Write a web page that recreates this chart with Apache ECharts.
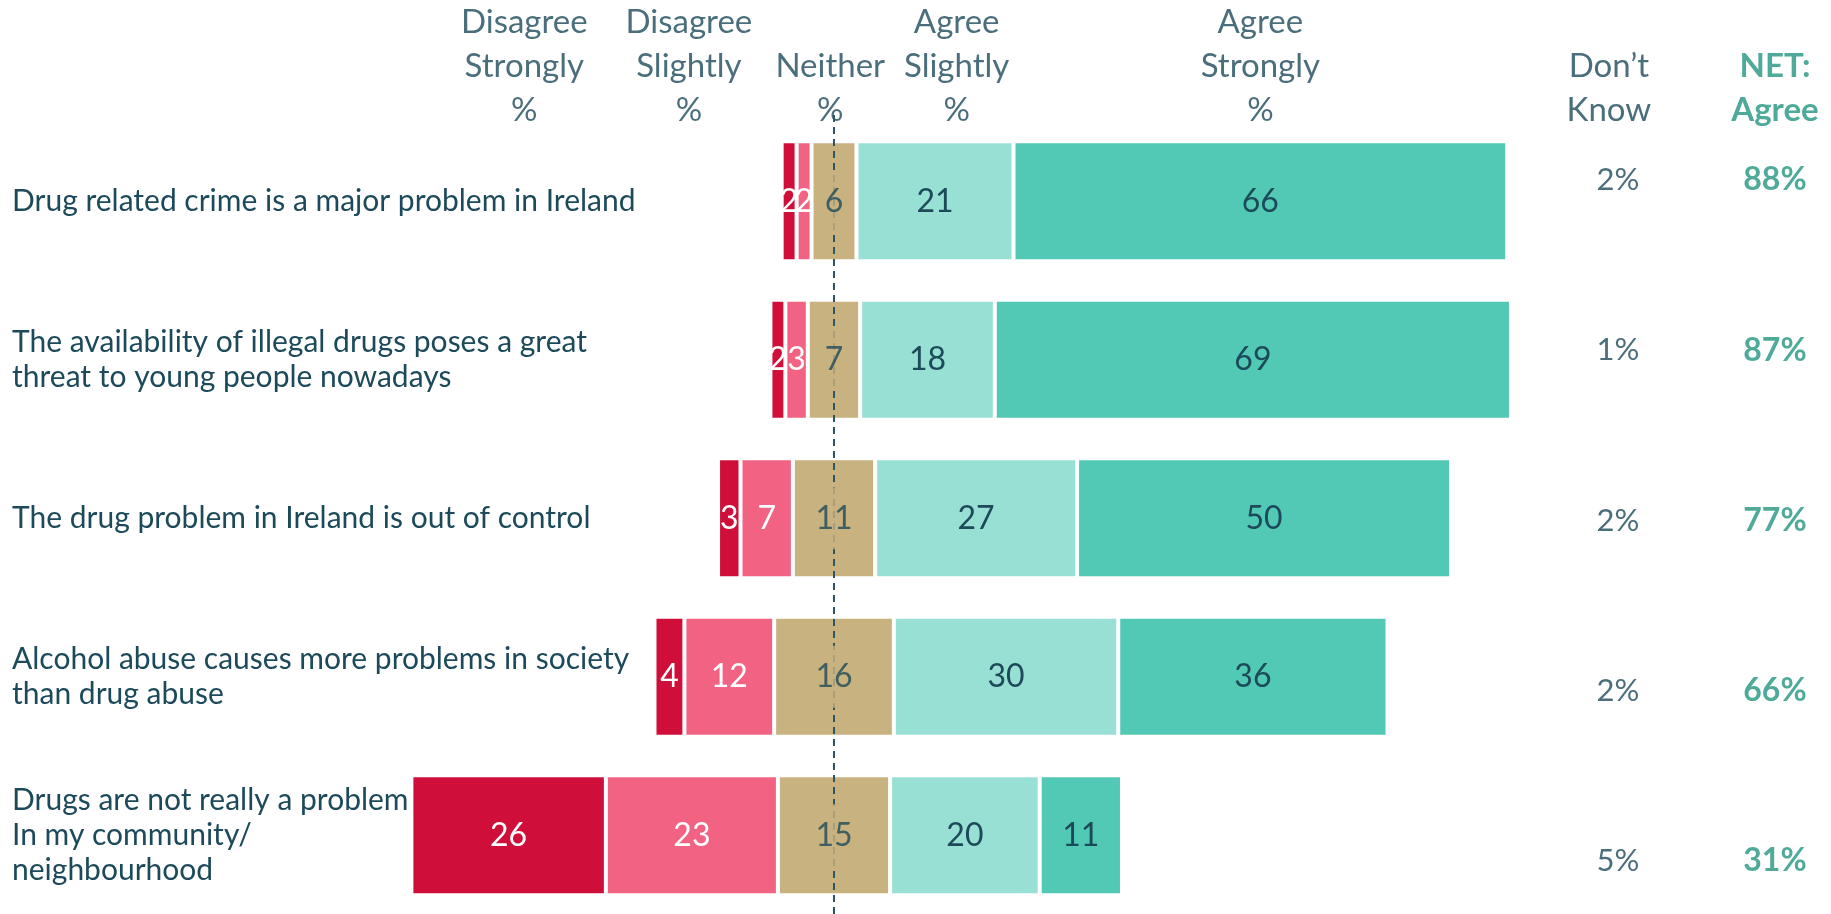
<!DOCTYPE html>
<html>
<head>
<meta charset="utf-8">
<script src="https://cdn.jsdelivr.net/npm/echarts@6/dist/echarts.min.js"></script>
<style>
    html, body { margin: 0; padding: 0; background: #ffffff; }
    #chartContainer { width: 1831px; height: 914px; }
</style>
</head>
<body>
<div id="chartContainer"></div>
<script>
// 設問
const statements = [
    'Drug related crime is a major problem in Ireland',
    'The availability of illegal drugs poses a great\nthreat to young people nowadays',
    'The drug problem in Ireland is out of control',
    'Alcohol abuse causes more problems in society\nthan drug abuse',
    'Drugs are not really a problem\nIn my community/\nneighbourhood'
];

// 回答 (%)
const disagreeStrongly = [2, 2, 3, 4, 26];
const disagreeSlightly = [2, 3, 7, 12, 23];
const neither = [6, 7, 11, 16, 15];
const agreeSlightly = [21, 18, 27, 30, 20];
const agreeStrongly = [66, 69, 50, 36, 11];
const dontKnow = [2, 1, 2, 2, 5];
const netAgree = [88, 87, 77, 66, 31];

// 列見出し
const headers = [
    'Disagree\nStrongly\n%',
    'Disagree\nSlightly\n%',
    'Neither\n%',
    'Agree\nSlightly\n%',
    'Agree\nStrongly\n%',
    'Don\u2019t\nKnow',
    'NET:\nAgree'
];

// レイアウト
const WIDTH = 1831;
const ZERO_X = 834;        // 点線 (Neither の中心) の位置
const PX_PER_UNIT = 7.48;  // 1% あたりのピクセル
const LEFT = 12;
const X_MIN = -(ZERO_X - LEFT) / PX_PER_UNIT;
const X_MAX = (WIDTH - ZERO_X) / PX_PER_UNIT;
const HEADER_X = [-41.4, -19.4, -0.5, 16.4, 57, 103.6, 125.8];
const DK_X = 104.8;
const NET_X = 125.8;
const LABEL_LIFT = [16, 16, 0, 0, 0];  // 行ラベルの上方向の補正

const FONT = 'Lato, "Open Sans", sans-serif';
const TEXT_COLOR = '#1D4A5A';
const NET_COLOR = '#23957F';
const NEITHER_COLOR = '#C8B27F';

const segments = [
    { name: 'Disagree Strongly', data: disagreeStrongly, color: '#CF0F3A', label: '#ffffff' },
    { name: 'Disagree Slightly', data: disagreeSlightly, color: '#F26282', label: '#ffffff' },
    { name: 'Neither', data: neither, color: NEITHER_COLOR, label: null },
    { name: 'Agree Slightly', data: agreeSlightly, color: '#98E0D4', label: TEXT_COLOR },
    { name: 'Agree Strongly', data: agreeStrongly, color: '#52C9B5', label: TEXT_COLOR }
];

// 左端の開始位置 (Neither の中心を 0 にする)
const offsets = neither.map((n, i) => -(disagreeStrongly[i] + disagreeSlightly[i] + n / 2));

function valueAxis(gridIndex) {
    return {
        type: 'value', gridIndex: gridIndex, min: X_MIN, max: X_MAX,
        axisLine: { show: false }, axisTick: { show: false },
        axisLabel: { show: false }, splitLine: { show: false }
    };
}

function makeGrid(top, height) {
    return { left: LEFT, right: 0, top: top, height: height, outerBoundsMode: 'none', containLabel: false };
}

// 透明な点にラベルだけ付ける
function textSeries(axisIndex, data, label, z) {
    return {
        type: 'scatter', xAxisIndex: axisIndex, yAxisIndex: axisIndex, silent: true,
        symbolSize: 1, itemStyle: { color: 'transparent' }, z: z || 2,
        emphasis: { disabled: true },
        data: data,
        label: Object.assign({ show: true, fontFamily: FONT }, label)
    };
}

const barSeries = [{
    type: 'bar', name: 'offset', stack: 'total', stackStrategy: 'all',
    silent: true, barWidth: 120,
    data: offsets, itemStyle: { color: 'transparent' }
}];
segments.forEach(seg => {
    barSeries.push({
        type: 'bar', name: seg.name, stack: 'total', stackStrategy: 'all',
        barWidth: 120,
        data: seg.data,
        itemStyle: { color: seg.color, borderColor: '#ffffff', borderWidth: 2 },
        label: {
            show: seg.label !== null, position: 'inside',
            color: seg.label, fontFamily: FONT, fontSize: 32
        }
    });
});

const chart = echarts.init(document.getElementById('chartContainer'));

const option = {
    animation: false,
    grid: [
        makeGrid(122, 792.5),  // 0: 棒グラフ
        makeGrid(95, 851),     // 1: Don't Know / NET
        makeGrid(0, 133),      // 2: 見出し
        makeGrid(113, 801)     // 3: 点線
    ],
    xAxis: [valueAxis(0), valueAxis(1), valueAxis(2), valueAxis(3)],
    yAxis: [
        {
            type: 'category', gridIndex: 0, inverse: true,
            data: statements.map((s, i) => ({
                value: s,
                textStyle: { align: 'left', padding: [0, 0, LABEL_LIFT[i], 0] }
            })),
            axisLine: { show: false }, axisTick: { show: false }, splitLine: { show: false },
            axisLabel: {
                interval: 0, align: 'left', margin: 0,
                color: TEXT_COLOR, fontFamily: FONT, fontSize: 30, lineHeight: 35
            }
        },
        {
            type: 'category', gridIndex: 1, inverse: true, data: statements, show: false
        },
        { type: 'value', gridIndex: 2, min: 0, max: 1, show: false },
        { type: 'value', gridIndex: 3, min: 0, max: 1, show: false }
    ],
    series: [
        ...barSeries,
        // Neither のラベル (点線の上に重ねる)
        textSeries(0, neither.map((n, i) => [0, i]), {
            position: 'inside',
            formatter: p => neither[p.dataIndex],
            color: TEXT_COLOR, fontSize: 32, lineHeight: 38,
            backgroundColor: NEITHER_COLOR, padding: [12, 4]
        }, 10),
        // Don't Know
        textSeries(1, dontKnow.map((v, i) => [DK_X, i]), {
            position: 'inside',
            formatter: p => dontKnow[p.dataIndex] + '%',
            color: TEXT_COLOR, fontSize: 31
        }),
        // NET: Agree
        textSeries(1, netAgree.map((v, i) => [NET_X, i]), {
            position: 'inside',
            formatter: p => netAgree[p.dataIndex] + '%',
            color: NET_COLOR, fontSize: 32, fontWeight: 'bold'
        }),
        // 見出し (NET だけ緑の太字)
        textSeries(2, HEADER_X.map((x, i) => ({
            value: [x, 0],
            label: i === headers.length - 1 ? { color: NET_COLOR, fontWeight: 'bold' } : {}
        })), {
            position: 'top', distance: 0, align: 'center',
            formatter: p => headers[p.dataIndex],
            fontSize: 33, lineHeight: 44, color: TEXT_COLOR
        }),
        // 点線
        {
            type: 'scatter', xAxisIndex: 3, yAxisIndex: 3, silent: true,
            symbolSize: 0, data: [[0, 0.5]],
            markLine: {
                silent: true, symbol: 'none', z: 5,
                label: { show: false },
                lineStyle: { type: [7, 5], color: '#2C5565', width: 2 },
                data: [{ xAxis: 0 }]
            }
        }
    ]
};

chart.setOption(option);
</script>
</body>
</html>
